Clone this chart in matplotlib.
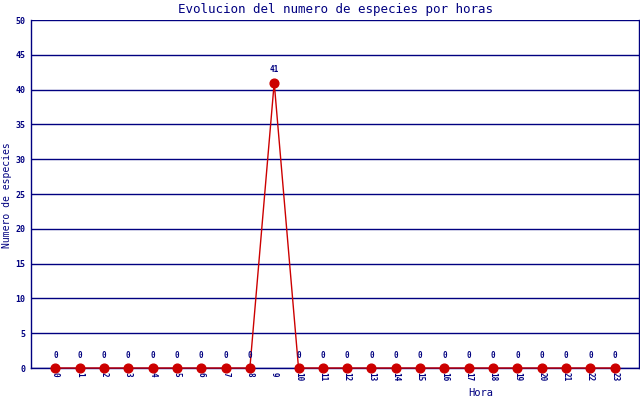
import matplotlib
matplotlib.use('Agg')
import matplotlib.pyplot as plt

# datos: especies por hora
horas = list(range(24))
especies = [0, 0, 0, 0, 0, 0, 0, 0, 0, 41, 0, 0, 0, 0, 0, 0, 0, 0, 0, 0, 0, 0, 0, 0]
y_ticks = list(range(0, 51, 5))

navy = '#000080'
rojo = '#cc0000'
plt.rcParams['font.family'] = ['DejaVu Sans Mono']

fig = plt.figure(figsize=(6.4, 4.0), dpi=100)
ax = fig.add_axes([31 / 640, 32 / 400, 608 / 640, 348 / 400])

ax.set_xlim(-1, 24)
ax.set_ylim(0, 50)
ax.set_yticks(y_ticks)
ax.set_xticks(horas)
ax.set_xticklabels([str(h) for h in horas], rotation=270, fontsize=5.5,
                   color=navy, fontweight='bold')
ax.set_yticklabels([str(v) for v in y_ticks], fontsize=6, color=navy, fontweight='bold')
ax.tick_params(length=0, pad=4)
ax.tick_params(axis='x', pad=3)

ax.yaxis.grid(True, color=navy, linewidth=1)
ax.set_axisbelow(True)
for s in ['left', 'bottom', 'right']:
    ax.spines[s].set_color(navy)
    ax.spines[s].set_linewidth(1)
ax.spines['top'].set_visible(False)

ax.plot(horas, especies, color=rojo, linewidth=1, marker='o',
        markersize=6.3, markerfacecolor=rojo, markeredgecolor=rojo, zorder=3, clip_on=False)

for h, v in zip(horas, especies):
    ax.annotate(str(v), (h, v), xytext=(0, 6), textcoords='offset points',
                ha='center', va='bottom', fontsize=5.5, color=navy, fontweight='bold')

fig.text(335 / 640, 1 - 9 / 400, 'Evolucion del numero de especies por horas',
         ha='center', va='center', fontsize=9, color=navy)
fig.text(7 / 640, 1 - 195 / 400, 'Numero de especies', rotation=90,
         ha='center', va='center', fontsize=7, color=navy)
fig.text(481 / 640, 1 - 393 / 400, 'Hora', ha='center', va='center',
         fontsize=7.5, color=navy)

fig.savefig('out.png', dpi=100)
